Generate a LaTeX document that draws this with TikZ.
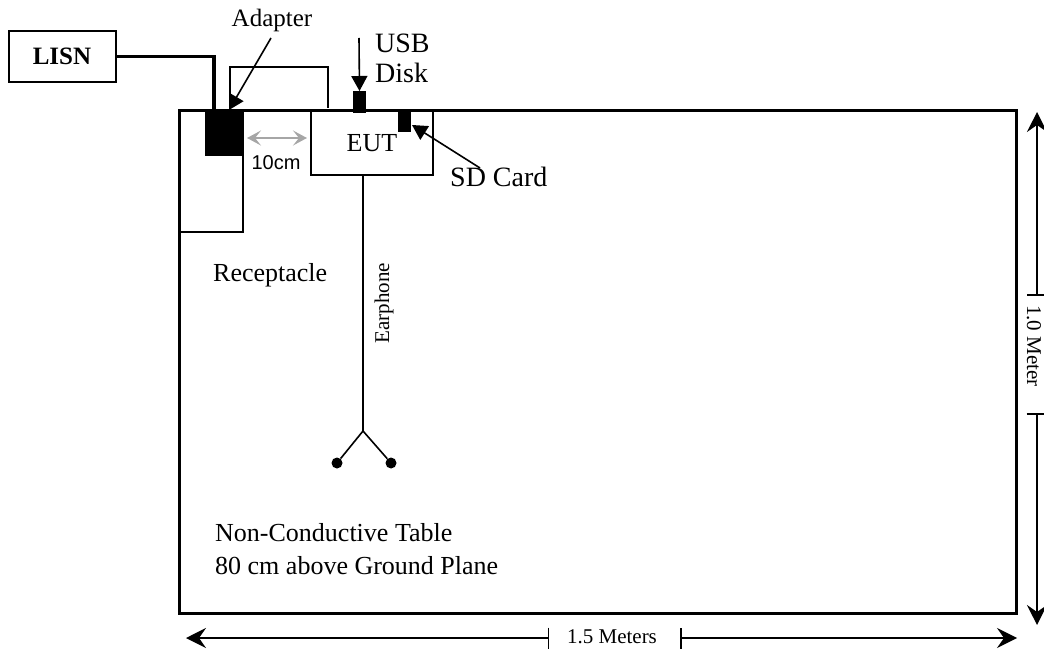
\documentclass[tikz,border=0pt]{standalone}
\usepackage{fontspec}
\setmainfont{Liberation Serif}
\newfontfamily\arialfont{Liberation Sans}
\usetikzlibrary{arrows.meta, positioning, calc}

\begin{document}
\begin{tikzpicture}[
  x=1pt, y=-1pt,
  box/.style = {draw, line width=2pt, inner sep=0pt, outer sep=0pt},
  solid box/.style = {fill=black, inner sep=0pt, outer sep=0pt},
  label/.style = {inner sep=0pt, font=\fontsize{26}{33}\selectfont, align=left},
  big label/.style = {inner sep=0pt, font=\fontsize{28}{30}\selectfont},
  small label/.style = {inner sep=0pt, font=\fontsize{21}{25}\selectfont},
  pointer/.style = {line width=1.6pt, -{Triangle[length=15pt, width=16pt]}},
  dimension/.style = {line width=1.5pt, {Stealth[length=20pt, width=20pt, inset=7pt]}-{Bar[width=21pt]}}
]
  \useasboundingbox (0,0) rectangle (1044,652);

  % Table and what stands on it
  \node[box, line width=3pt, minimum width=837pt, minimum height=502pt, anchor=north west] (tableplane) at (179,111) {};
  \node[box, minimum width=64pt, minimum height=121pt, anchor=north west] (receptacle) at (179,111) {};
  \node[box, minimum width=122pt, minimum height=64pt, anchor=north west] (eut) at (311,111) {};
  \node[label] (euttext) at (372,143) {EUT};
  \node[solid box, minimum width=39pt, minimum height=46pt, anchor=north west] (adapter) at (205,110) {};
  \node[solid box, minimum width=13pt, minimum height=22pt, anchor=north west] (usb) at (353,91) {};
  \node[solid box, minimum width=13pt, minimum height=20pt, anchor=north west] (sdcard) at (398,112) {};

  % LISN
  \node[box, minimum width=107pt, minimum height=51pt, anchor=north west, font=\fontsize{25}{29}\selectfont\bfseries] (lisn) at (8.5,31) {LISN};

  % Labels
  \node[label, font=\fontsize{25}{29}\selectfont] (adaptertext) at (272,20) {Adapter};
  \node[big label, anchor=west] (usbtext) at (375,43) {USB};
  \node[big label, anchor=west] (disktext) at (375,73) {Disk};
  \node[big label, anchor=west] (sdtext) at (450,177) {SD Card};
  \node[label, anchor=west] (recepttext) at (213,275) {Receptacle};
  \node[label, anchor=west] (tabletext) at (215,549) {Non-Conductive Table\\80 cm above Ground Plane};
  \node[inner sep=0pt, font=\arialfont\fontsize{20}{24}\selectfont] (gaptext) at (276,163) {10cm};
  \node[small label, rotate=90] (earphonetext) at (384,303) {Earphone};
  \node[small label] (widthtext) at (612,637) {1.5 Meters};
  \node[small label, rotate=-90] (heighttext) at (1034,346) {1.0 Meter};

  % Power wires
  \coordinate (wiredrop) at (214,111);
  \draw[line width=3.5pt] (lisn.east) -| (wiredrop);
  \coordinate (cordstart) at (230,111);
  \coordinate (cordend) at (328,108);
  \draw[line width=2pt] (cordstart) |- (230,67) -| (cordend);

  % Pointers
  \coordinate (adapterfrom) at (271,38);
  \coordinate (adapterto) at (229,110);
  \draw[pointer] (adapterfrom) -- (adapterto);
  \coordinate (usbfrom) at (359,38);
  \draw[pointer] (usbfrom) -- (usb.north);
  \coordinate (sdfrom) at (480,168);
  \coordinate (sdto) at (412,125);
  \draw[pointer] (sdfrom) -- (sdto);

  % Gap
  \coordinate (gapleft) at (247,138);
  \coordinate (gapright) at (307,138);
  \draw[gray!70, line width=1.6pt, {Stealth[length=14pt, width=15pt, inset=6pt]}-{Stealth[length=14pt, width=15pt, inset=6pt]}] (gapleft) -- (gapright);

  % Earphone
  \coordinate (fork) at (363,431);
  \node[circle, fill=black, inner sep=0pt, minimum size=11pt] (budleft) at (337,463) {};
  \node[circle, fill=black, inner sep=0pt, minimum size=11pt] (budright) at (391,463) {};
  \draw[line width=1.6pt] (eut.south -| fork) -- (fork);
  \draw[line width=1.6pt] (budleft) -- (fork) -- (budright);

  % Dimensions
  \coordinate (widthleft) at (186,638);
  \coordinate (widthlefttick) at (549,638);
  \coordinate (widthrighttick) at (680,638);
  \coordinate (widthright) at (1017,638);
  \draw[dimension] (widthleft) -- (widthlefttick);
  \draw[dimension] (widthright) -- (widthrighttick);
  \coordinate (heighttop) at (1037,112);
  \coordinate (heighttoptick) at (1037,296);
  \coordinate (heightbottomtick) at (1037,413);
  \coordinate (heightbottom) at (1037,625);
  \draw[dimension] (heighttop) -- (heighttoptick);
  \draw[dimension] (heightbottom) -- (heightbottomtick);
\end{tikzpicture}
\end{document}
